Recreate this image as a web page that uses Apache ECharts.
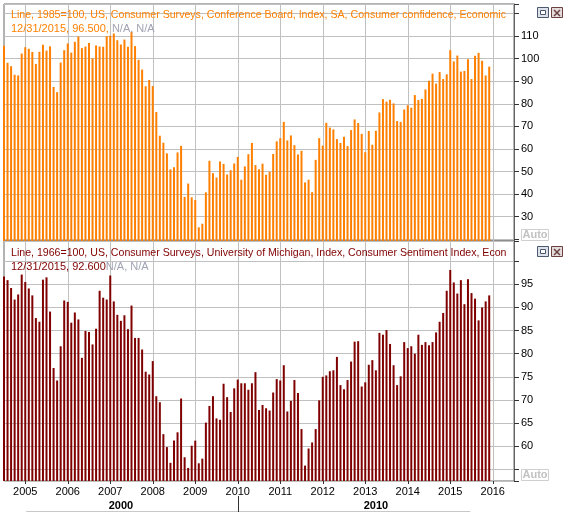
<!DOCTYPE html>
<html>
<head>
<meta charset="utf-8">
<script src="https://cdn.jsdelivr.net/npm/echarts@6/dist/echarts.min.js"></script>
<style>
  html, body { margin: 0; padding: 0; background: #fff; }
  #chart { width: 565px; height: 512px; }
</style>
</head>
<body>
<div id="chart"></div>
<script>
// monthly values, Jul 2004 .. Dec 2015
const firstMonth = '2004-07';
const lastMonth = '2016-07';

const confidence = [
  105.7, 98.2, 96.7, 92.9, 92.6, 102.3,
  105.1, 104.4, 103.0, 97.7, 103.1, 106.2, 103.6, 105.5, 87.5, 85.2, 98.3, 103.8,
  106.8, 102.7, 107.5, 109.8, 104.7, 105.4, 107.0, 100.2, 105.9, 105.4, 105.3, 110.0,
  110.2, 111.2, 108.2, 106.3, 108.5, 105.3, 111.9, 105.6, 99.5, 95.2, 87.8, 90.6,
  87.9, 76.4, 65.9, 62.8, 58.1, 51.0, 51.9, 58.5, 61.4, 38.8, 44.7, 38.6,
  37.4, 25.3, 26.9, 40.8, 54.8, 49.3, 47.4, 54.5, 53.4, 48.7, 50.6, 53.6,
  56.5, 46.4, 52.3, 57.7, 62.7, 52.9, 51.0, 53.5, 48.6, 49.9, 57.8, 63.4,
  64.8, 72.0, 63.8, 66.0, 61.7, 57.6, 59.2, 45.2, 46.4, 40.9, 55.2, 64.8,
  61.5, 71.6, 69.5, 68.7, 64.4, 62.7, 65.4, 61.3, 68.4, 73.1, 71.5, 66.7,
  58.6, 68.0, 61.9, 68.1, 76.2, 82.1, 81.0, 81.8, 80.2, 72.4, 72.0, 77.5,
  79.4, 78.3, 83.9, 81.7, 82.2, 86.4, 90.3, 93.4, 89.0, 94.1, 91.0, 93.1,
  103.8, 98.8, 101.4, 94.3, 94.6, 99.8, 91.0, 101.3, 102.6, 99.1, 92.6, 96.5
];

const sentiment = [
  96.7, 95.9, 94.2, 91.7, 92.8, 97.1,
  95.5, 94.1, 92.6, 87.7, 86.9, 96.0, 96.5, 89.1, 76.9, 74.2, 81.6, 91.5,
  91.2, 86.7, 88.9, 87.4, 79.1, 84.9, 84.7, 82.0, 85.4, 93.6, 92.1, 91.7,
  96.9, 91.3, 88.4, 87.1, 88.3, 85.3, 90.4, 83.4, 83.4, 80.9, 76.1, 75.5,
  78.4, 70.8, 69.5, 62.6, 59.8, 56.4, 61.2, 63.0, 70.3, 57.6, 55.3, 60.1,
  61.2, 56.3, 57.3, 65.1, 68.7, 70.8, 66.0, 65.7, 73.5, 70.6, 67.4, 72.5,
  74.4, 73.6, 73.6, 72.2, 73.6, 76.0, 67.8, 68.9, 68.2, 67.7, 71.6, 74.5,
  74.2, 77.5, 67.5, 69.8, 74.3, 71.5, 63.7, 55.8, 59.5, 60.8, 63.7, 69.9,
  75.0, 75.3, 76.2, 76.4, 79.3, 73.2, 72.3, 74.3, 78.3, 82.6, 82.7, 72.9,
  73.8, 77.6, 78.6, 76.4, 84.5, 84.1, 85.1, 82.1, 77.5, 73.2, 75.1, 82.5,
  81.2, 81.6, 80.0, 84.1, 81.9, 82.5, 81.8, 82.5, 84.6, 86.9, 88.8, 93.6,
  98.1, 95.4, 93.0, 95.9, 90.7, 96.1, 93.1, 91.9, 87.2, 90.0, 91.3, 92.6
];

const confidenceTitle = 'Line, 1985=100, US, Consumer Surveys, Conference Board, Index, SA, Consumer confidence, Economic Conditions';
const sentimentTitle = 'Line, 1966=100, US, Consumer Surveys, University of Michigan, Index, Consumer Sentiment Index, Economic Conditions';
const lastDate = '12/31/2015';
const decades = ['2000', '2010'];

const ORANGE = '#ff8000';
const DARKRED = '#800000';
const GRID = '#c0c0c0';
const FONT = "Tahoma, 'Liberation Sans', Arial, sans-serif";

const months = [];
for (let y = 2004; y <= 2016; y++) {
  for (let m = 1; m <= 12; m++) {
    const k = y + '-' + String(m).padStart(2, '0');
    if (k >= firstMonth && k <= lastMonth) months.push(k);
  }
}
const isJan = (i, v) => v.slice(5) === '01';

const lastConf = confidence[confidence.length - 1];
const lastSent = sentiment[sentiment.length - 1];

function xAx(idx, labels) {
  return {
    type: 'category', gridIndex: idx, data: months, boundaryGap: false,
    axisLine: { show: false },
    axisTick: { show: labels, interval: isJan, length: 3, lineStyle: { color: '#333' } },
    axisLabel: {
      show: labels, interval: isJan, margin: 5, color: '#000',
      fontSize: 11, fontFamily: FONT, formatter: v => v.slice(0, 4)
    },
    splitLine: { show: true, interval: isJan, lineStyle: { color: GRID } }
  };
}

function yAx(idx, min, max, step, lo, hi) {
  return {
    type: 'value', gridIndex: idx, position: 'right', min: min, max: max,
    splitNumber: Math.round((max - min) / step), minInterval: step, maxInterval: step,
    axisLine: { show: true, lineStyle: { color: '#666' } },
    axisTick: { show: true, length: 5, lineStyle: { color: '#333' } },
    axisLabel: {
      margin: 7, color: '#000', fontSize: 11, fontFamily: FONT,
      formatter: v => (Math.abs(v % step) < 1e-6 && v >= lo && v <= hi) ? String(v) : ''
    },
    splitLine: { lineStyle: { color: GRID } }
  };
}

function lastLabel(val, bg, fg) {
  return {
    silent: true, symbol: 'none', animation: false,
    lineStyle: { width: 0, opacity: 0 },
    label: {
      position: 'end', distance: 1, formatter: val.toFixed(3),
      backgroundColor: bg, color: fg, fontWeight: 'bold', fontSize: 11,
      fontFamily: FONT, padding: [1, 3, 0, 2]
    },
    data: [{ yAxis: val }]
  };
}

function panelTitle(text, sub, color, top) {
  return {
    text: text, subtext: sub, left: 11, top: top, padding: 0, itemGap: 0,
    textStyle: {
      color: color, fontSize: 10.6, fontWeight: 'normal', fontFamily: FONT,
      lineHeight: 14, width: 503, overflow: 'truncate', ellipsis: ''
    },
    subtextStyle: {
      fontSize: 11, fontFamily: FONT, lineHeight: 14,
      rich: {
        a: { color: color, fontSize: 11, fontFamily: FONT },
        b: { color: '#a0a4b4', fontSize: 11, fontFamily: FONT }
      }
    }
  };
}

function buttons(top, autoTop) {
  return [
    { type: 'rect', shape: { x: 537.5, y: top + 0.5, width: 11, height: 10 },
      style: { fill: '#dde2ea', stroke: '#4c5870', lineWidth: 1 } },
    { type: 'rect', shape: { x: 540.5, y: top + 3.5, width: 5, height: 4 },
      style: { fill: '#fff', stroke: '#4c5870', lineWidth: 1 } },
    { type: 'rect', shape: { x: 551.5, y: top + 0.5, width: 11, height: 10 },
      style: { fill: '#e4dcdc', stroke: '#6a4040', lineWidth: 1 } },
    { type: 'polyline', shape: { points: [[554, top + 3], [560, top + 9]] },
      style: { stroke: '#6a4040', lineWidth: 1.5 } },
    { type: 'polyline', shape: { points: [[560, top + 3], [554, top + 9]] },
      style: { stroke: '#6a4040', lineWidth: 1.5 } },
    { type: 'rect', shape: { x: 521.5, y: autoTop + 0.5, width: 27, height: 11 },
      style: { fill: '#fff', stroke: '#cfcfcf', lineWidth: 1 } },
    { type: 'text', x: 535, y: autoTop + 6,
      style: { text: 'Auto', fill: '#c2c2c2', font: 'bold 11px ' + FONT,
               align: 'center', verticalAlign: 'middle' } }
  ];
}

const chart = echarts.init(document.getElementById('chart'), null, { renderer: 'canvas' });

chart.setOption({
  animation: false,
  backgroundColor: '#fff',
  title: [
    panelTitle(confidenceTitle, '{a|' + lastDate + ', ' + lastConf.toFixed(3) + ', }{b|N/A, N/A}', ORANGE, 8),
    panelTitle(sentimentTitle, '{a|' + lastDate + ', ' + lastSent.toFixed(3) + '}{b|N/A, N/A}', DARKRED, 246)
  ],
  grid: [
    { left: 4, right: 51, top: 4, height: 237, show: true, borderColor: '#666', borderWidth: 1 },
    { left: 4, right: 51, top: 241, height: 240, show: true, borderColor: '#666', borderWidth: 1 }
  ],
  xAxis: [xAx(0, false), xAx(1, true)],
  yAxis: [
    yAx(0, 19.25, 124.25, 10, 30, 110),
    yAx(1, 52.47, 104.36, 5, 60, 95)
  ],
  series: [
    {
      type: 'bar', name: 'Consumer confidence', xAxisIndex: 0, yAxisIndex: 0,
      data: confidence, barWidth: 2, itemStyle: { color: ORANGE },
      markLine: lastLabel(lastConf, ORANGE, '#000')
    },
    {
      type: 'bar', name: 'Consumer sentiment', xAxisIndex: 1, yAxisIndex: 1,
      data: sentiment, barWidth: 2, itemStyle: { color: DARKRED },
      markLine: lastLabel(lastSent, DARKRED, '#fff')
    }
  ]
});

// decade band under the year labels, placed from the axis scale
const x2010 = chart.convertToPixel({ xAxisIndex: 1 }, '2010-01');
const xLeft = chart.convertToPixel({ xAxisIndex: 1 }, months[0]);
const xRight = chart.convertToPixel({ xAxisIndex: 1 }, months[months.length - 1]);
const x2005 = chart.convertToPixel({ xAxisIndex: 1 }, '2005-01');
const x2015 = chart.convertToPixel({ xAxisIndex: 1 }, '2015-01');

chart.setOption({
  graphic: [].concat(
    buttons(7, 229),
    buttons(246, 469),
    [
      { type: 'line', shape: { x1: x2005 + 1, y1: 511.5, x2: x2015 + 20, y2: 511.5 },
        style: { stroke: '#c8c8c8', lineWidth: 1 } },
      { type: 'line', shape: { x1: Math.round(x2010) + 0.5, y1: 496, x2: Math.round(x2010) + 0.5, y2: 512 },
        style: { stroke: '#333', lineWidth: 1 } },
      { type: 'text', x: (xLeft + x2010) / 2, y: 506,
        style: { text: decades[0], fill: '#000', font: 'bold 11px ' + FONT, align: 'center', verticalAlign: 'middle' } },
      { type: 'text', x: (x2010 + xRight) / 2, y: 506,
        style: { text: decades[1], fill: '#000', font: 'bold 11px ' + FONT, align: 'center', verticalAlign: 'middle' } }
    ]
  )
});
</script>
</body>
</html>
